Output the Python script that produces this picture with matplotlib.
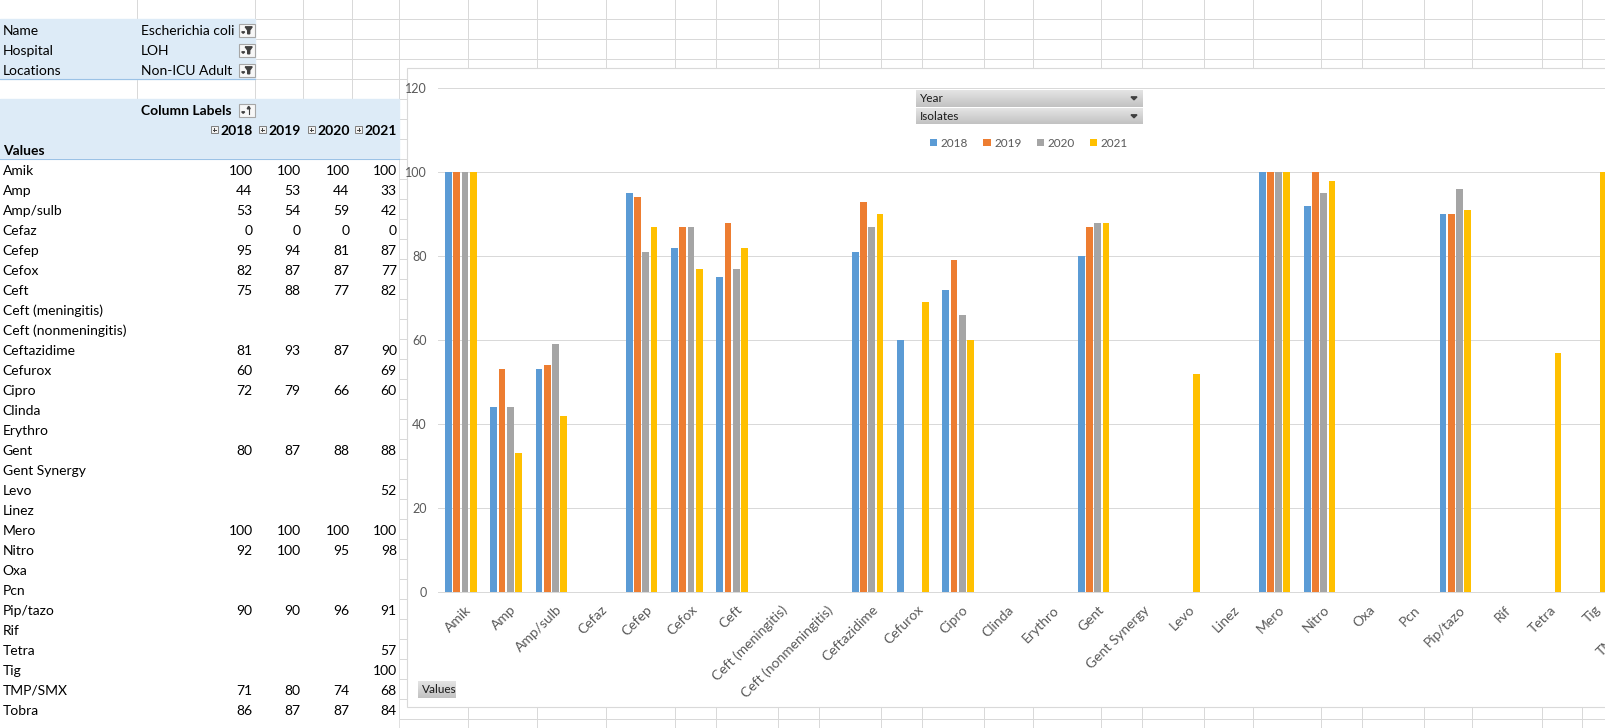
import numpy as np
import matplotlib
matplotlib.use("Agg")
import matplotlib.pyplot as plt
from matplotlib.patches import Rectangle, Polygon
from matplotlib.colors import LinearSegmentedColormap
from matplotlib.transforms import ScaledTranslation

# report filters shown above the pivot
filter_names = ["Name", "Hospital", "Locations"]
filter_values = ["Escherichia coli", "LOH", "Non-ICU Adult"]

years = ["2018", "2019", "2020", "2021"]
drugs = ["Amik", "Amp", "Amp/sulb", "Cefaz", "Cefep", "Cefox", "Ceft",
         "Ceft (meningitis)", "Ceft (nonmeningitis)", "Ceftazidime", "Cefurox",
         "Cipro", "Clinda", "Erythro", "Gent", "Gent Synergy", "Levo", "Linez",
         "Mero", "Nitro", "Oxa", "Pcn", "Pip/tazo", "Rif", "Tetra", "Tig",
         "TMP/SMX", "Tobra"]
nan = np.nan
pct_2018 = [100, 44, 53, 0, 95, 82, 75, nan, nan, 81, 60, 72, nan, nan, 80, nan,
            nan, nan, 100, 92, nan, nan, 90, nan, nan, nan, 71, 86]
pct_2019 = [100, 53, 54, 0, 94, 87, 88, nan, nan, 93, nan, 79, nan, nan, 87, nan,
            nan, nan, 100, 100, nan, nan, 90, nan, nan, nan, 80, 87]
pct_2020 = [100, 44, 59, 0, 81, 87, 77, nan, nan, 87, nan, 66, nan, nan, 88, nan,
            nan, nan, 100, 95, nan, nan, 96, nan, nan, nan, 74, 87]
pct_2021 = [100, 33, 42, 0, 87, 77, 82, nan, nan, 90, 69, 60, nan, nan, 88, nan,
            52, nan, 100, 98, nan, nan, 91, nan, 57, 100, 68, 84]
series = [pct_2018, pct_2019, pct_2020, pct_2021]
colors = ["#5B9BD5", "#ED7D31", "#A5A5A5", "#FFC000"]

W, H = 1606, 728
FONT = "Lato"
GRID = "#D9D9D9"
BLUE = "#DDEBF7"
BLUE_LINE = "#9BC2E6"
SHEET_FS = 10
CHART_FS = 9
# sheet column edges / row height in pixels
col_x = [0, 137, 255, 303, 352, 399.3, 468, 537, 606.5, 675.5, 716.5, 778.5,
         819.5, 881.5, 922.5, 984.5, 1033, 1101, 1142, 1204, 1252.6, 1321, 1362,
         1424, 1472, 1542, 1582.5]
ROW_H = 20
Y0 = -0.7


def row_top(r):
    return Y0 + ROW_H * r


def row_mid(r):
    return row_top(r) + ROW_H / 2 + 1.5


def fr(x0, y0, x1, y1):
    return [x0 / W, 1 - y1 / H, (x1 - x0) / W, (y1 - y0) / H]


fig = plt.figure(figsize=(W / 100, H / 100), dpi=100)
bg = fig.add_axes([0, 0, 1, 1])
bg.set_xlim(0, W)
bg.set_ylim(H, 0)
bg.axis("off")

# ---- spreadsheet grid ----
for x in col_x[1:]:
    bg.plot([x, x], [0, H], color=GRID, lw=0.72, zorder=1)
for k in range(1, 38):
    bg.plot([0, W], [row_top(k)] * 2, color=GRID, lw=0.72, zorder=1)

# pivot areas
bg.add_patch(Rectangle((0, row_top(1)), col_x[2], 3 * ROW_H, color=BLUE, zorder=2))
bg.add_patch(Rectangle((0, row_top(5)), col_x[5], 3 * ROW_H, color=BLUE, zorder=2))
bg.add_patch(Rectangle((0, row_top(8)), col_x[5] - 1, H, color="white", zorder=2))
bg.plot([0, col_x[2]], [row_top(4)] * 2, color=BLUE_LINE, lw=0.8, zorder=3)
bg.plot([0, col_x[5]], [row_top(8)] * 2, color=BLUE_LINE, lw=0.8, zorder=3)


def filter_button(r, sort=False):
    x0, x1 = 238.7, 254.7
    y0, y1 = row_top(r) + 4.5, row_top(r) + 17.5
    bg.add_patch(Rectangle((x0, y0), x1 - x0, y1 - y0, facecolor="#F7F7F7",
                           edgecolor="#A6A6A6", lw=0.8, zorder=4))
    bg.add_patch(Polygon([(x0 + 3, y1 - 5), (x0 + 6, y1 - 5), (x0 + 4.5, y1 - 3.5)],
                         color="#404040", zorder=5))
    if sort:
        bg.plot([x0 + 10, x0 + 10], [y0 + 3, y1 - 3], color="#404040", lw=0.8, zorder=5)
        bg.add_patch(Polygon([(x0 + 8.5, y0 + 5), (x0 + 11.5, y0 + 5), (x0 + 10, y0 + 2.5)],
                             color="#404040", zorder=5))
    else:
        bg.add_patch(Polygon([(x0 + 6.5, y0 + 3), (x0 + 13.5, y0 + 3), (x0 + 11, y0 + 6.5),
                              (x0 + 11, y1 - 3), (x0 + 9, y1 - 3), (x0 + 9, y0 + 6.5)],
                             color="#404040", zorder=5))


txt = dict(fontsize=SHEET_FS, family=FONT, va="center", zorder=6)
for i, (n, v) in enumerate(zip(filter_names, filter_values)):
    bg.text(2.7, row_mid(i + 1), n, ha="left", **txt)
    bg.text(col_x[1] + 3.7, row_mid(i + 1), v, ha="left", **txt)
    filter_button(i + 1)

bg.text(col_x[1] + 3.7, row_mid(5), "Column Labels", ha="left", fontweight="bold", **txt)
filter_button(5, sort=True)
bg.text(2.7, row_mid(7), "Values", ha="left", fontweight="bold", **txt)
for j, yr in enumerate(years):
    xr = col_x[j + 2] - 2.5
    bg.text(xr, row_mid(6), yr, ha="right", fontweight="bold", **txt)
    ix, iy = xr - 41.5, row_top(6) + 6.7
    bg.add_patch(Rectangle((ix, iy), 7, 7, facecolor="#F2F2F2", edgecolor="#7F7F7F",
                           lw=0.7, zorder=5))
    bg.plot([ix + 1.8, ix + 5.2], [iy + 3.5] * 2, color="#404040", lw=0.7, zorder=6)
    bg.plot([ix + 3.5] * 2, [iy + 1.8, iy + 5.2], color="#404040", lw=0.7, zorder=6)

for i, d in enumerate(drugs):
    y = row_mid(8 + i)
    bg.text(2.7, y, d, ha="left", **txt)
    for j, vals in enumerate(series):
        if not np.isnan(vals[i]):
            bg.text(col_x[j + 2] - 2.5, y, f"{vals[i]:.0f}", ha="right", **txt)

# ---- chart area ----
chart_l, chart_t, chart_b = 407.3, 67.7, 706.7
bg.add_patch(Rectangle((chart_l, chart_t), W, chart_b - chart_t, facecolor="white",
                       edgecolor=GRID, lw=0.8, zorder=7))

n = len(drugs)
cat_w = 45.2
plot_l, plot_t, plot_b = 438.3, 88.3, 591.7
ax = fig.add_axes(fr(plot_l, plot_t, plot_l + cat_w * n, plot_b))
ax.patch.set_alpha(0)
x = np.arange(n)
slot, bar_w = 0.181, 0.148
for j, (yr, vals, c) in enumerate(zip(years, series, colors)):
    ax.bar(x + (j - 1.5) * slot, vals, width=bar_w, color=c, label=yr, zorder=3)

ax.set_xlim(-0.5, n - 0.5)
ax.set_ylim(0, 120)
ax.set_yticks(range(0, 121, 20))
ax.yaxis.grid(True, color=GRID, lw=0.72)
ax.set_axisbelow(True)
for s in ["top", "right", "left"]:
    ax.spines[s].set_visible(False)
ax.spines["bottom"].set_color(GRID)
ax.spines["bottom"].set_linewidth(0.72)
ax.tick_params(axis="y", length=0, pad=8.3, labelcolor="#595959", labelsize=CHART_FS)
ax.tick_params(axis="x", length=0, pad=8.5, labelcolor="#595959", labelsize=10)
ax.set_xticks(x)
ax.set_xticklabels(drugs, rotation=45, ha="right", va="top", rotation_mode="anchor")
shift = ScaledTranslation(4 / 100, 0, fig.dpi_scale_trans)
for lab in ax.get_xticklabels() + ax.get_yticklabels():
    lab.set_family(FONT)
for lab in ax.get_xticklabels():
    lab.set_transform(lab.get_transform() + shift)

leg = ax.legend(loc="center", bbox_to_anchor=(1029 / W, 1 - 143.3 / H),
                bbox_transform=fig.transFigure, ncol=4, frameon=False,
                prop={"family": FONT, "size": 8.5}, handlelength=0.6,
                handleheight=0.6, handletextpad=0.3, columnspacing=1.3)
for t in leg.get_texts():
    t.set_color("#595959")

# ---- pivot chart field buttons ----
top = fig.add_axes([0, 0, 1, 1])
top.axis("off")
grad = np.linspace(0, 1, 32).reshape(-1, 1)
btn_cmap = LinearSegmentedColormap.from_list("btn", ["#E4E4E4", "#C2C2C2"])


def field_button(x0, y0, x1, y1, label, arrow=True):
    top.imshow(grad, extent=(x0, x1, y1, y0), cmap=btn_cmap, aspect="auto", zorder=2)
    top.text(x0 + 4, (y0 + y1) / 2 + 0.5, label, ha="left", va="center",
             fontsize=8.5, family=FONT, color="#1A1A1A", zorder=3)
    if arrow:
        top.add_patch(Polygon([(x1 - 12, (y0 + y1) / 2 - 1.5), (x1 - 6, (y0 + y1) / 2 - 1.5),
                               (x1 - 9, (y0 + y1) / 2 + 1.5)], color="#404040", zorder=3))


field_button(916, 90, 1143, 106.7, "Year")
field_button(916, 108.3, 1143, 124.3, "Isolates")
field_button(418.3, 681, 455.7, 697.7, "Values", arrow=False)
top.set_xlim(0, W)
top.set_ylim(H, 0)

fig.savefig("out.png", dpi=100)
